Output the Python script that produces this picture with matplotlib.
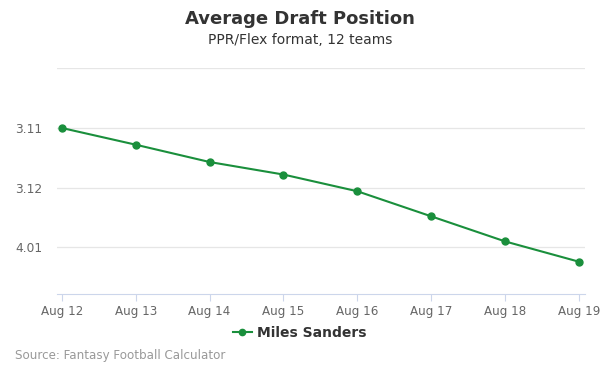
import matplotlib.pyplot as plt

# data
dates = ["Aug 12", "Aug 13", "Aug 14", "Aug 15", "Aug 16", "Aug 17", "Aug 18", "Aug 19"]
adp_pick = [35.0, 35.28, 35.57, 35.78, 36.06, 36.48, 36.90, 37.24]
ytick_vals = [35, 36, 37]
ytick_labels = ["3.11", "3.12", "4.01"]
player = "Miles Sanders"

green = "#1a8f3c"

fig = plt.figure(figsize=(6, 3.75), dpi=100)
ax = fig.add_axes([0.095, 0.216, 0.88, 0.602])

x = list(range(len(dates)))
ax.plot(x, adp_pick, color=green, lw=1.5, marker="o", ms=5, label=player, zorder=3)

# gridlines (top one unlabeled)
for g in [34] + ytick_vals:
    ax.axhline(g, color="#e6e6e6", lw=0.9, zorder=1)

ax.set_ylim(37.78, 34.0)
ax.set_xlim(-0.065, 7.08)
ax.set_yticks(ytick_vals)
ax.set_yticklabels(ytick_labels)
ax.set_xticks(x)
ax.set_xticklabels(dates)

for s in ["top", "right", "left"]:
    ax.spines[s].set_visible(False)
ax.spines["bottom"].set_color("#ccd6eb")
ax.tick_params(axis="y", length=0, labelsize=8.8, labelcolor="#666666", pad=10.5)
ax.tick_params(axis="x", length=5, color="#ccd6eb", labelsize=8.6, labelcolor="#666666", pad=3)

fig.text(0.5, 0.948, "Average Draft Position", ha="center", va="center",
         fontsize=13, fontweight="bold", color="#333333")
fig.text(0.5, 0.892, "PPR/Flex format, 12 teams", ha="center", va="center",
         fontsize=10, color="#333333")

leg = fig.legend(loc="center", bbox_to_anchor=(0.5, 0.113), frameon=False,
                 prop={"weight": "bold", "size": 10}, handlelength=1.3,
                 handletextpad=0.4, markerscale=0.9)
for t in leg.get_texts():
    t.set_color("#333333")

fig.text(0.025, 0.051, "Source: Fantasy Football Calculator", ha="left", va="center",
         fontsize=8.6, color="#999999")

fig.savefig("out.png", dpi=100)
